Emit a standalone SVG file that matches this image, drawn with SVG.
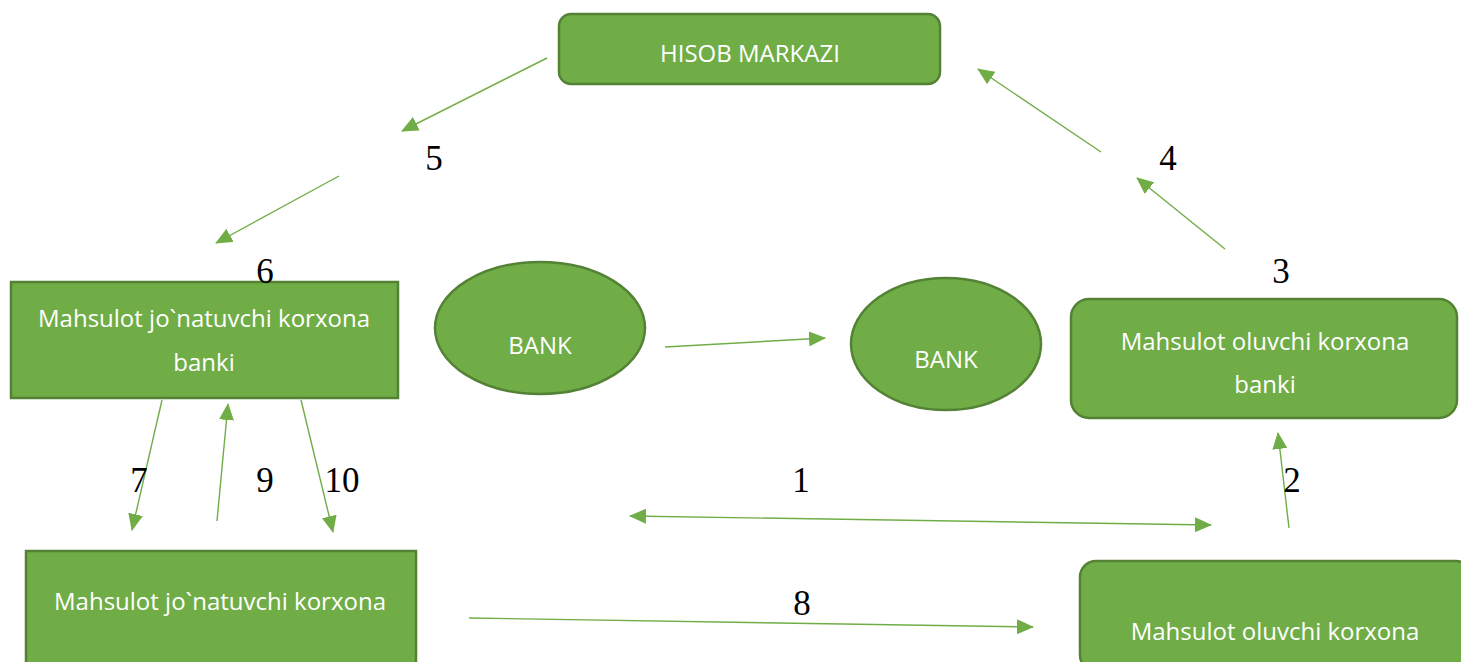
<svg xmlns="http://www.w3.org/2000/svg" width="1461" height="662" viewBox="0 0 1461 662">
<style>
.box{fill:#70AD47;stroke:#548235;stroke-width:2.5}
.lbl{font-family:"Open Sans","Noto Sans",sans-serif;font-size:24px;fill:#FFFFFF;text-anchor:middle}
.num{font-family:"Liberation Serif","Times New Roman",serif;font-size:35px;fill:#000000;text-anchor:middle}
.con{stroke:#70AD47;stroke-width:1.4;fill:none;marker-end:url(#ah)}
</style>
<defs>
<marker id="ah" markerUnits="userSpaceOnUse" markerWidth="17" markerHeight="15" refX="16" refY="7.5" orient="auto-start-reverse" viewBox="0 0 17 15">
<path d="M0,0 L17,7.5 L0,15 Z" fill="#70AD47"/>
</marker>
</defs>
<rect width="1461" height="662" fill="#FFFFFF"/>

<g id="hisob-markazi">
<rect class="box" x="559" y="14" width="381" height="70" rx="12"/>
<text class="lbl" x="750" y="62">HISOB MARKAZI</text>
</g>

<g id="jonatuvchi-bank">
<rect class="box" x="11" y="282" width="387" height="116"/>
<text class="lbl" x="204" y="327">Mahsulot jo`natuvchi korxona</text>
<text class="lbl" x="204" y="371">banki</text>
</g>

<g id="bank-1">
<ellipse class="box" cx="540" cy="328" rx="105" ry="66"/>
<text class="lbl" x="540" y="354">BANK</text>
</g>

<g id="bank-2">
<ellipse class="box" cx="946" cy="344" rx="95" ry="66"/>
<text class="lbl" x="946" y="368">BANK</text>
</g>

<g id="oluvchi-bank">
<rect class="box" x="1071" y="299" width="386" height="119" rx="18"/>
<text class="lbl" x="1265" y="350">Mahsulot oluvchi korxona</text>
<text class="lbl" x="1265" y="393">banki</text>
</g>

<g id="jonatuvchi-korxona">
<rect class="box" x="26" y="551" width="390" height="115"/>
<text class="lbl" x="220" y="610">Mahsulot jo`natuvchi korxona</text>
</g>

<g id="oluvchi-korxona">
<rect class="box" x="1080" y="561" width="392" height="110" rx="16"/>
<text class="lbl" x="1275" y="640">Mahsulot oluvchi korxona</text>
</g>

<g id="connectors">
<line class="con" x1="547" y1="58" x2="402" y2="131"/>
<line class="con" x1="339" y1="176" x2="216" y2="243"/>
<line class="con" x1="1101" y1="152" x2="978" y2="69"/>
<line class="con" x1="1225" y1="249" x2="1137" y2="178"/>
<line class="con" x1="665" y1="347" x2="825" y2="338"/>
<line class="con" x1="162" y1="400" x2="132" y2="530"/>
<line class="con" x1="217" y1="521" x2="228" y2="404"/>
<line class="con" x1="301" y1="400" x2="333" y2="532"/>
<line class="con" x1="1211" y1="525" x2="630" y2="516" style="marker-start:url(#ah)"/>
<line class="con" x1="1289" y1="528" x2="1278" y2="433"/>
<line class="con" x1="469" y1="618" x2="1033" y2="627"/>
</g>

<g id="numbers">
<text class="num" x="434" y="170">5</text>
<text class="num" x="265" y="283">6</text>
<text class="num" x="1168" y="170">4</text>
<text class="num" x="1281" y="283">3</text>
<text class="num" x="139" y="492">7</text>
<text class="num" x="265" y="492">9</text>
<text class="num" x="342" y="492">10</text>
<text class="num" x="801" y="492">1</text>
<text class="num" x="1292" y="492">2</text>
<text class="num" x="802" y="615">8</text>
</g>
</svg>
